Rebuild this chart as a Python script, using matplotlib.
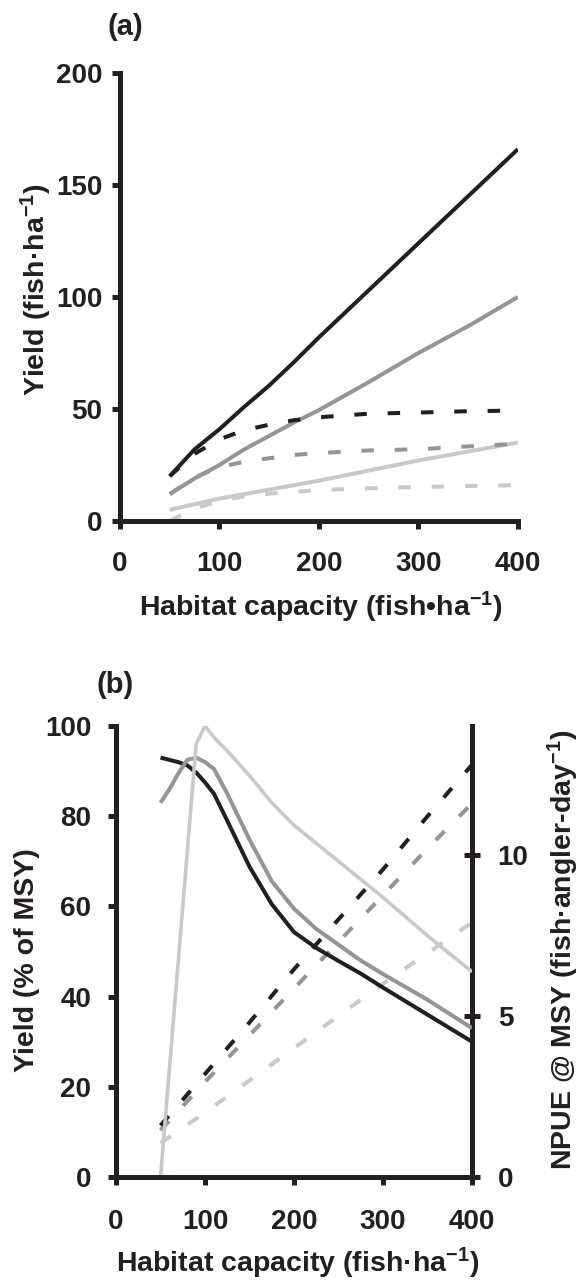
import matplotlib
matplotlib.use("Agg")
import matplotlib.pyplot as plt

# Couleurs des trois scénarios
noir = "#231f20"
gris = "#939598"
clair = "#c8c9cb"

# (a) Rendement en fonction de la capacité d'habitat
capacite_a = [50, 75, 100, 125, 150, 175, 200, 250, 300, 350, 400]
msy_noir = [20, 32, 41, 51, 60.5, 71, 82, 103, 124, 145, 166]
msy_gris = [12, 19, 25, 32, 38, 44, 49.5, 62, 75, 87, 100]
msy_clair = [5, 7.5, 10, 12, 14, 16, 18, 22.5, 27, 31, 35]
rdt_noir = [20, 30, 36.5, 40.5, 43, 45, 46.3, 47.9, 48.4, 49, 49.3]
rdt_gris = [12, 19.5, 24, 26.5, 28, 29.5, 30.3, 31.5, 32, 33.3, 34.5]
rdt_clair = [0, 5.5, 9, 11, 12.2, 13, 13.8, 14.6, 15.2, 15.6, 16]

# (b) Rendement en % du MSY et NPUE au MSY
capacite_b = [50, 60, 70, 80, 90, 100, 110, 125, 150, 175, 200, 225, 250, 275, 300, 350, 400]
pct_noir = [93, 92.5, 92, 91.3, 89.7, 87.5, 85, 79, 68.8, 60.5, 54.3, 50.8, 47.9, 45.1, 42, 36, 30]
pct_gris = [83, 86, 89.5, 92.5, 93, 92, 90.5, 85, 74.8, 65.6, 59.5, 55, 51.5, 48, 45, 39.3, 33]
pct_clair = [0, 24, 48, 72, 96, 100, 97.5, 94.5, 89, 83, 78, 74, 70, 66, 62, 53.5, 45.5]

capacite_npue = [50, 100, 150, 200, 250, 300, 350, 400]
npue_noir = [1.6, 3.2, 4.8, 6.45, 8.0, 9.55, 11.2, 12.8]
npue_gris = [1.45, 2.95, 4.4, 5.85, 7.3, 8.75, 10.2, 11.6]
npue_clair = [1.05, 2.0, 3.0, 4.0, 5.0, 6.0, 6.95, 7.9]

plt.rcParams["font.family"] = ["Liberation Sans", "DejaVu Sans"]
plt.rcParams["font.weight"] = "bold"
plt.rcParams["axes.labelweight"] = "bold"
plt.rcParams["mathtext.fontset"] = "custom"
plt.rcParams["mathtext.rm"] = "Liberation Sans:bold"
plt.rcParams["mathtext.bf"] = "Liberation Sans:bold"
plt.rcParams["mathtext.default"] = "rm"
plt.rcParams["lines.scale_dashes"] = False

ep_axe = 3.6
ep_ligne = 2.9
tirets = (0, (9, 15))
taille_ticks = 20
taille_label = 20.5

fig = plt.figure(figsize=(5.86, 12.81), dpi=100)

# ---------- (a) ----------
ax1 = fig.add_axes([0.2048, 0.5933, 0.679, 0.3497])
ax1.plot(capacite_a, msy_clair, color=clair, lw=ep_ligne, solid_capstyle="butt")
ax1.plot(capacite_a, msy_gris, color=gris, lw=ep_ligne, solid_capstyle="butt")
ax1.plot(capacite_a, msy_noir, color=noir, lw=ep_ligne, solid_capstyle="butt")
ax1.plot(capacite_a, rdt_clair, color=clair, lw=ep_ligne, ls=tirets, dash_capstyle="butt")
ax1.plot(capacite_a, rdt_gris, color=gris, lw=ep_ligne, ls=tirets, dash_capstyle="butt")
ax1.plot(capacite_a, rdt_noir, color=noir, lw=ep_ligne, ls=tirets, dash_capstyle="butt")

ax1.set_xlim(0, 400)
ax1.set_ylim(0, 200)
ax1.set_xticks([0, 100, 200, 300, 400])
ax1.set_yticks([0, 50, 100, 150, 200])
for s in ["top", "right"]:
    ax1.spines[s].set_visible(False)
for s in ["left", "bottom"]:
    ax1.spines[s].set_linewidth(ep_axe)
    ax1.spines[s].set_color(noir)
ax1.tick_params(axis="both", direction="out", length=5.8, width=ep_axe, color=noir,
                labelsize=taille_ticks, labelcolor=noir)
ax1.tick_params(axis="x", pad=16)
ax1.tick_params(axis="y", pad=7)
ax1.set_xlabel(r"Habitat capacity (fish•ha$^{-1}$)", fontsize=taille_label, color=noir, va="center")
ax1.set_ylabel(r"Yield (fish·ha$^{-1}$)", fontsize=taille_label, color=noir, va="center")
ax1.xaxis.set_label_coords(0.505, -0.194)
ax1.yaxis.set_label_coords(-0.211, 0.516)
fig.text(125 / 586, 1 - 27 / 1281, "(a)", fontsize=21, ha="center", va="center", color=noir)

# ---------- (b) ----------
ax2 = fig.add_axes([0.198, 0.0812, 0.6075, 0.352])
ax3 = ax2.twinx()
ax2.set_zorder(ax3.get_zorder() + 1)
ax2.patch.set_visible(False)

ax3.plot(capacite_npue, npue_clair, color=clair, lw=ep_ligne, ls=tirets, dash_capstyle="butt")
ax3.plot(capacite_npue, npue_gris, color=gris, lw=ep_ligne, ls=tirets, dash_capstyle="butt")
ax3.plot(capacite_npue, npue_noir, color=noir, lw=ep_ligne, ls=tirets, dash_capstyle="butt")
ax2.plot(capacite_b, pct_noir, color=noir, lw=ep_ligne, solid_capstyle="butt")
ax2.plot(capacite_b, pct_gris, color=gris, lw=ep_ligne, solid_capstyle="butt")
ax2.plot(capacite_b, pct_clair, color=clair, lw=2.6, solid_capstyle="butt")

ax2.set_xlim(0, 400)
ax2.set_ylim(0, 100)
ax3.set_ylim(0, 14)
ax2.set_xticks([0, 100, 200, 300, 400])
ax2.set_yticks([0, 20, 40, 60, 80, 100])
ax3.set_yticks([0, 5, 10])
for a in (ax2, ax3):
    a.spines["top"].set_visible(False)
    for s in ["left", "bottom", "right"]:
        a.spines[s].set_linewidth(ep_axe)
        a.spines[s].set_color(noir)
ax2.spines["right"].set_visible(False)
ax3.spines["left"].set_visible(False)
ax3.spines["bottom"].set_visible(False)
ax2.tick_params(axis="both", direction="out", length=5.8, width=ep_axe, color=noir,
                labelsize=taille_ticks, labelcolor=noir)
ax2.tick_params(axis="x", pad=17)
ax2.tick_params(axis="y", pad=12)
ax3.tick_params(axis="y", direction="inout", length=11, width=ep_axe, color=noir,
                labelsize=taille_ticks, labelcolor=noir, pad=13)
ax2.set_xlabel(r"Habitat capacity (fish·ha$^{−1}$)", fontsize=taille_label, color=noir, va="center")
ax2.set_ylabel("Yield (% of MSY)", fontsize=taille_label, color=noir, va="center")
ax3.set_ylabel(r"NPUE @ MSY (fish·angler-day$^{−1}$)", fontsize=taille_label, color=noir,
               va="center", rotation=90)
ax2.xaxis.set_label_coords(0.511, -0.191)
ax2.yaxis.set_label_coords(-0.25, 0.481)
ax3.yaxis.set_label_coords(1.258, 0.503)
fig.text(115 / 586, 1 - 685 / 1281, "(b)", fontsize=21, ha="center", va="center", color=noir)

plt.savefig("out.png", dpi=100)
